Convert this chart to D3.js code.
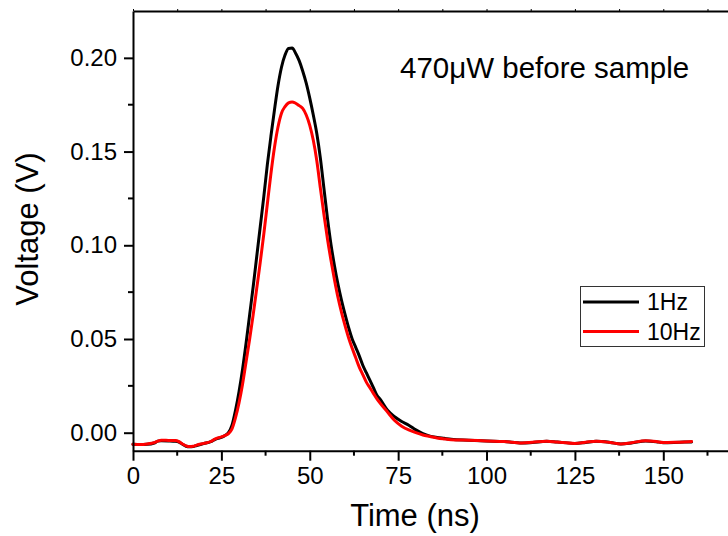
<!DOCTYPE html>
<html>
<head>
<meta charset="utf-8">
<script src="https://cdn.jsdelivr.net/npm/d3@7"></script>
<style>
  html, body { margin: 0; padding: 0; background: #fff; }
  svg { display: block; font-family: "Liberation Sans", Arial, sans-serif; }
</style>
</head>
<body>
<svg id="chart" width="728" height="536"></svg>
<script>
// ---- data ----
const time1Hz = [0,2,4,6,7,8,10,12,13,14,15,16,17,18,20,22,23,24,25,26,27,28,29,30,31,32,33,34,35,36,37,38,39,40,41,42,43,44,45,46,47,48,49,50,51,52,53,54,55,56,57,58,59,60,61,62,63,64,65,66,67,68,69,70,72,74,76,78,80,82,84,86,88,90,95,100,105,110,113,117,120,125,128,131,135,138,141,145,148,150,153,156,158];
const volt1Hz = [-0.0062,-0.0063,-0.0062,-0.0055,-0.0045,-0.0043,-0.0044,-0.0046,-0.005,-0.0062,-0.0072,-0.0075,-0.0074,-0.0068,-0.0058,-0.0048,-0.0038,-0.003,-0.0025,-0.0015,0.0,0.004,0.012,0.022,0.034,0.048,0.063,0.078,0.094,0.110,0.126,0.143,0.158,0.172,0.185,0.195,0.2015,0.205,0.2052,0.2025,0.1985,0.193,0.1865,0.1785,0.1695,0.1595,0.1465,0.1305,0.1145,0.1005,0.089,0.079,0.0705,0.063,0.056,0.050,0.0455,0.041,0.036,0.032,0.028,0.024,0.020,0.0176,0.012,0.0085,0.006,0.004,0.0015,-0.0005,-0.0018,-0.0025,-0.003,-0.0035,-0.004,-0.0044,-0.0047,-0.0055,-0.0052,-0.0046,-0.005,-0.0057,-0.0052,-0.0046,-0.0052,-0.006,-0.0055,-0.0044,-0.0048,-0.0053,-0.0052,-0.005,-0.0049];

const time10Hz = [0,2,4,6,7,8,10,12,13,14,15,16,17,18,20,22,23,24,25,26,27,28,29,30,31,32,33,34,35,36,37,38,39,40,41,42,43,44,45,46,47,48,49,50,51,52,53,54,55,56,57,58,59,60,61,62,63,64,65,66,67,68,69,70,72,74,76,78,80,82,84,86,88,90,95,100,105,110,113,117,120,125,128,131,135,138,141,145,148,150,153,156,158];
const volt10Hz = [-0.0062,-0.0063,-0.006,-0.0053,-0.0045,-0.004,-0.0041,-0.0042,-0.0048,-0.006,-0.007,-0.0074,-0.0072,-0.0066,-0.0057,-0.0047,-0.0036,-0.0028,-0.0022,-0.0015,-0.0005,0.002,0.008,0.016,0.026,0.038,0.050,0.063,0.077,0.091,0.106,0.122,0.138,0.152,0.163,0.1705,0.174,0.176,0.1765,0.1758,0.1745,0.173,0.1695,0.164,0.156,0.145,0.1305,0.1165,0.1035,0.092,0.0815,0.072,0.064,0.057,0.0505,0.045,0.040,0.035,0.031,0.027,0.024,0.021,0.018,0.0155,0.011,0.0065,0.0035,0.0015,0.0,-0.0012,-0.002,-0.0028,-0.0033,-0.0037,-0.004,-0.0044,-0.0047,-0.0055,-0.0051,-0.0045,-0.005,-0.0057,-0.0051,-0.0045,-0.0052,-0.006,-0.0053,-0.0043,-0.0047,-0.0052,-0.0051,-0.0049,-0.0047];

const seriesNames = ["1Hz", "10Hz"];
const seriesColors = ["#000000", "#ff0000"];
const xMajorTicks = [0, 25, 50, 75, 100, 125, 150];
const xMinorTicks = [12.5, 37.5, 62.5, 87.5, 112.5, 137.5, 162.5];
const yMajorTicks = [0.00, 0.05, 0.10, 0.15, 0.20];
const yMinorTicks = [0.025, 0.075, 0.125, 0.175];
const xDomain = [0, 170];
const yDomain = [-0.0096, 0.225];
const titleText = "470μW before sample";
const xTitle = "Time (ns)";
const yTitle = "Voltage (V)";

// ---- drawing ----
const svg = d3.select("#chart");
const pLeft = 133, pRight = 734, pTop = 11, pBottom = 450.7;
const x = d3.scaleLinear().domain(xDomain).range([pLeft, pRight]);
const y = d3.scaleLinear().domain(yDomain).range([pBottom, pTop]);

const series = [
  { name: seriesNames[0], color: seriesColors[0], pts: time1Hz.map((t, i) => [t, volt1Hz[i]]) },
  { name: seriesNames[1], color: seriesColors[1], pts: time10Hz.map((t, i) => [t, volt10Hz[i]]) }
];

const line = d3.line().x(d => x(d[0])).y(d => y(d[1])).curve(d3.curveMonotoneX);

svg.append("g").selectAll("path").data(series).join("path")
  .attr("d", d => line(d.pts))
  .attr("fill", "none")
  .attr("stroke", d => d.color)
  .attr("stroke-width", 3)
  .attr("stroke-linejoin", "round")
  .attr("stroke-linecap", "round");

// Bottom axis
const xAxis = d3.axisBottom(x).tickValues(xMajorTicks).tickSize(10).tickSizeOuter(0).tickPadding(6).tickFormat(d3.format("d"));
const gx = svg.append("g").attr("transform", `translate(0,${pBottom})`).call(xAxis);
gx.append("g").selectAll("line").data(xMinorTicks).join("line")
  .attr("x1", d => x(d)).attr("x2", d => x(d)).attr("y1", 0).attr("y2", 5)
  .attr("stroke", "#000").attr("stroke-width", 2);

// Left axis
const yAxis = d3.axisLeft(y).tickValues(yMajorTicks).tickSize(9).tickSizeOuter(0).tickPadding(7).tickFormat(d3.format(".2f"));
const gy = svg.append("g").attr("transform", `translate(${pLeft},0)`).call(yAxis);
gy.append("g").selectAll("line").data(yMinorTicks).join("line")
  .attr("x1", 0).attr("x2", -5).attr("y1", d => y(d)).attr("y2", d => y(d))
  .attr("stroke", "#000").attr("stroke-width", 2);

// Top axis (tiny ticks)
const xTop = d3.axisTop(x).tickValues(xMajorTicks.concat(xMinorTicks)).tickSize(2).tickSizeOuter(0).tickFormat("");
const gt = svg.append("g").attr("transform", `translate(0,${pTop})`).call(xTop);
gt.selectAll(".tick line").attr("stroke-width", 1);

// Right axis (outside visible window)
const gr = svg.append("g").attr("transform", `translate(${pRight},0)`).call(d3.axisRight(y).tickValues([]).tickSizeOuter(0));

[gx, gy, gt, gr].forEach(g => {
  g.select(".domain").attr("stroke", "#000").attr("stroke-width", 2);
  g.selectAll("text").attr("fill", "#000").style("font-size", "24px").style("font-family", "'Liberation Sans', Arial, sans-serif");
});
gx.selectAll(".tick line").attr("stroke-width", 2);
gy.selectAll(".tick line").attr("stroke-width", 2);

// Title
svg.append("text").attr("x", 400).attr("y", 78)
  .style("font-size", "29.5px").attr("fill", "#000").text(titleText);

// Axis titles
svg.append("text").attr("x", 415).attr("y", 526).attr("text-anchor", "middle")
  .style("font-size", "31px").attr("fill", "#000").text(xTitle);
svg.append("text").attr("transform", "translate(38,229) rotate(-90)").attr("text-anchor", "middle")
  .style("font-size", "31px").attr("fill", "#000").text(yTitle);

// Legend
const lg = svg.append("g");
lg.append("rect").attr("x", 580.5).attr("y", 286.5).attr("width", 124).attr("height", 60)
  .attr("fill", "#fff").attr("stroke", "#333").attr("stroke-width", 1);
series.forEach((s, i) => {
  const yy = 302 + i * 29.5;
  lg.append("line").attr("x1", 583).attr("x2", 639).attr("y1", yy).attr("y2", yy)
    .attr("stroke", s.color).attr("stroke-width", 3);
  lg.append("text").attr("x", 647).attr("y", yy + 8).style("font-size", "23px").attr("fill", "#000").text(s.name);
});
</script>
</body>
</html>
